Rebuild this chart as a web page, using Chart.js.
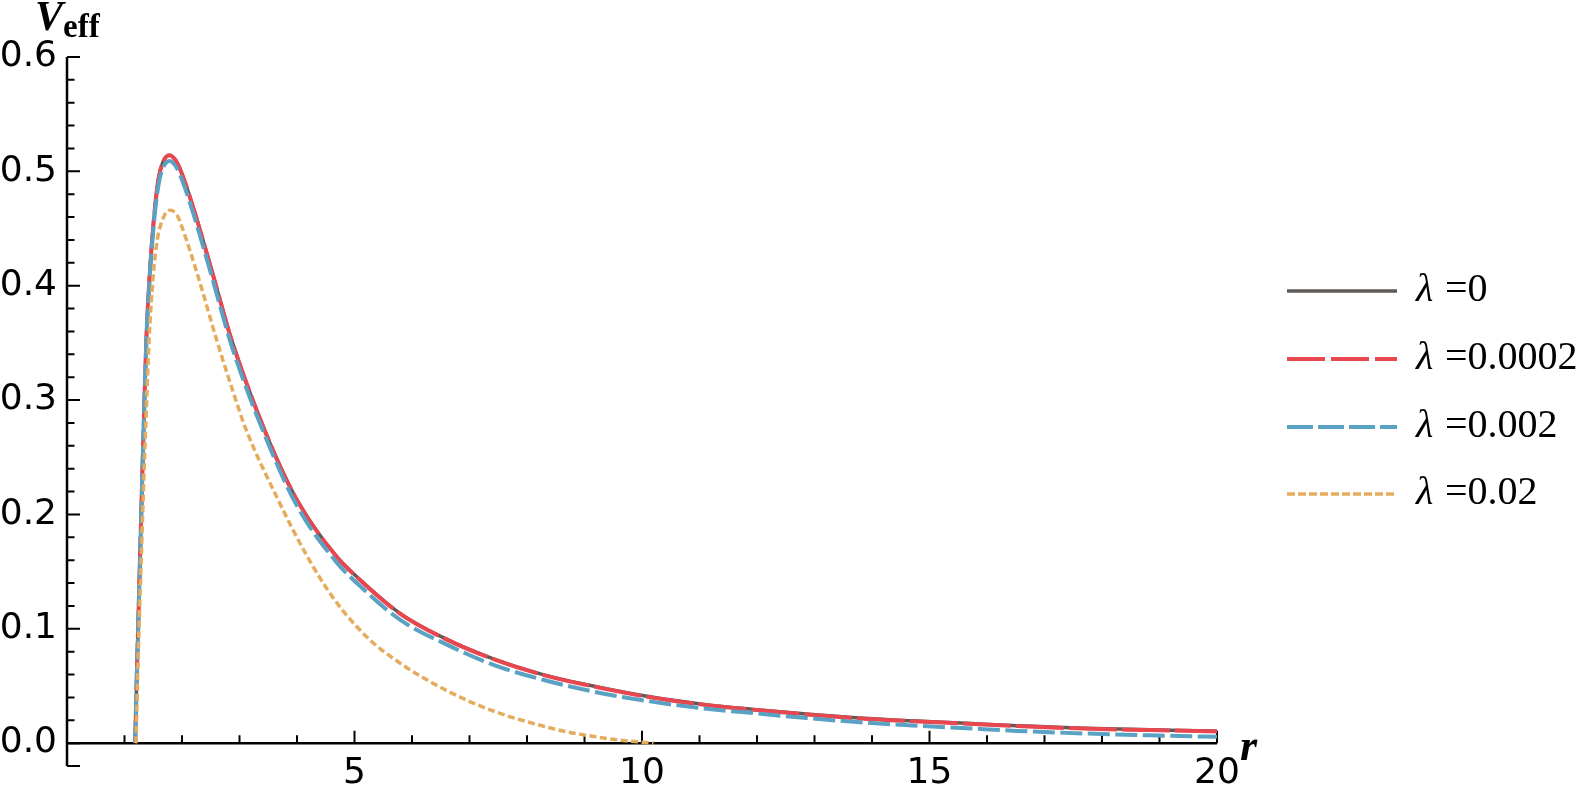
<!DOCTYPE html>
<html lang="en">
<head>
<meta charset="UTF-8">
<title>V_eff vs r</title>
<style>
  * { margin:0; padding:0; box-sizing:border-box; }
  body { background:#fff; width:1587px; height:792px; overflow:hidden; }
</style>
<script src="https://cdn.jsdelivr.net/npm/chart.js"></script>
</head>
<body>
<canvas id="veff" width="1587" height="792"></canvas>
<script>
// radii (shared by the three upper curves)
const rMain = [1.185, 1.215, 1.245, 1.28, 1.33, 1.38, 1.44, 1.51, 1.59, 1.66, 1.78, 1.91, 2.02, 2.21, 2.53, 2.86,
  3.45, 4.0, 4.69, 5.04, 5.79, 6.57, 7.44, 8.31, 9.21, 10.14, 11.04, 11.94, 12.86, 13.79, 14.69, 15.65, 16.52,
  17.67, 18.83, 20];
const vLam0 = [0, 0.06, 0.115, 0.18, 0.271, 0.353, 0.411, 0.458, 0.493, 0.507, 0.514, 0.508, 0.495, 0.466, 0.411,
  0.353, 0.272, 0.2126, 0.163, 0.1455, 0.1135, 0.0916, 0.0732, 0.0595, 0.0493, 0.0405, 0.0341, 0.0295, 0.0254,
  0.0219, 0.0195, 0.0173, 0.0153, 0.013, 0.0117, 0.0105];
const vLam00002 = [0, 0.06, 0.115, 0.18, 0.271, 0.353, 0.411, 0.458, 0.493, 0.507, 0.514, 0.508, 0.495, 0.466, 0.411,
  0.353, 0.272, 0.2125, 0.163, 0.1453, 0.1133, 0.0914, 0.073, 0.0593, 0.049, 0.0402, 0.0338, 0.0292, 0.0251,
  0.0216, 0.0192, 0.017, 0.015, 0.0127, 0.0114, 0.0102];
const vLam0002 = [0, 0.06, 0.114, 0.178, 0.269, 0.35, 0.408, 0.454, 0.488, 0.502, 0.509, 0.503, 0.49, 0.461, 0.406,
  0.348, 0.268, 0.2075, 0.158, 0.140, 0.108, 0.087, 0.068, 0.055, 0.0445, 0.0365, 0.0305, 0.0262, 0.022,
  0.0182, 0.0155, 0.013, 0.0107, 0.0085, 0.0068, 0.0055];
const rLam002 = [1.2, 1.23, 1.26, 1.3, 1.36, 1.43, 1.5, 1.57, 1.68, 1.79, 1.91, 1.995, 2.31, 2.6, 2.89, 3.1, 3.65,
  4.17, 4.63, 5.21, 5.79, 6.37, 6.95, 7.53, 8.11, 8.69, 9.27, 9.62, 10.2];
const vLam002 = [0, 0.06, 0.112, 0.175, 0.265, 0.355, 0.409, 0.44, 0.46, 0.466, 0.462, 0.452, 0.403, 0.353, 0.307,
  0.276, 0.215, 0.164, 0.127, 0.093, 0.07, 0.0522, 0.0376, 0.026, 0.0172, 0.0099, 0.005, 0.0026, 0];

// axes
const xMin = 0, xMax = 20, yMin = -0.02, yMax = 0.6;
const xLabelVals = [5, 10, 15, 20];
const yLabelVals = [0, 0.1, 0.2, 0.3, 0.4, 0.5, 0.6];
const xTickMarks = [1,2,3,4,5,6,7,8,9,10,11,12,13,14,15,16,17,18,19,20];
const yTickMarks = [-0.02,0,0.02,0.04,0.06,0.08,0.1,0.12,0.14,0.16,0.18,0.2,0.22,0.24,0.26,0.28,0.3,
  0.32,0.34,0.36,0.38,0.4,0.42,0.44,0.46,0.48,0.5,0.52,0.54,0.56,0.58,0.6];

const toXY = (rs, vs) => rs.map((r, i) => ({x: r, y: vs[i]}));
const isMajor = (v, step) => Math.abs(v / step - Math.round(v / step)) < 1e-6;
const noPad = s => { s.paddingTop = 0; s.paddingBottom = 0; s.paddingLeft = 0; s.paddingRight = 0; };

const mmaAxes = {
  id: 'mmaAxes',
  beforeDatasetsDraw(chart) {
    const {ctx, scales: {x, y}} = chart;
    const x0 = x.getPixelForValue(0), y0 = y.getPixelForValue(0);
    ctx.save();
    ctx.strokeStyle = '#000';
    ctx.lineWidth = 2.5;
    ctx.beginPath();
    ctx.moveTo(x0, y.getPixelForValue(yMin));
    ctx.lineTo(x0, y.getPixelForValue(yMax));
    ctx.moveTo(x0, y0);
    ctx.lineTo(x.getPixelForValue(xMax), y0);
    ctx.stroke();
    ctx.lineWidth = 2;
    ctx.beginPath();
    xTickMarks.forEach(v => {
      const px = x.getPixelForValue(v), len = isMajor(v, 5) ? 12.5 : 8;
      ctx.moveTo(px, y0); ctx.lineTo(px, y0 - len);
    });
    yTickMarks.forEach(v => {
      const py = y.getPixelForValue(v), len = (isMajor(v, 0.1) || v === yMin) ? 13 : 7.5;
      ctx.moveTo(x0, py); ctx.lineTo(x0 + len, py);
    });
    ctx.stroke();
    ctx.restore();
  },
  afterDraw(chart) {
    const ctx = chart.ctx;
    ctx.save();
    ctx.fillStyle = '#000';
    ctx.textBaseline = 'alphabetic';
    ctx.font = 'bold italic 42px "Liberation Serif"';
    ctx.fillText('V', 35, 30);
    ctx.font = 'bold 33px "Liberation Serif"';
    ctx.fillText('eff', 63, 37);
    ctx.font = 'bold italic 44px "Liberation Serif"';
    ctx.fillText('r', 1240, 760);

    // legend
    const rowY = [291, 359, 427, 494];
    chart.data.datasets.forEach((ds, i) => {
      const y = rowY[i];
      ctx.strokeStyle = ds.borderColor;
      ctx.lineWidth = ds.borderWidth;
      ctx.setLineDash(ds.legendDash);
      ctx.beginPath();
      ctx.moveTo(1287, y); ctx.lineTo(1397, y);
      ctx.stroke();
      ctx.setLineDash([]);
      ctx.font = 'italic 40px "Liberation Serif"';
      ctx.fillText(ds.label[0], 1416, y + 10);
      ctx.font = '40px "Liberation Serif"';
      ctx.fillText(ds.label.slice(2), 1445, y + 10);
    });
    ctx.restore();
  }
};

const common = {pointRadius: 0, fill: false, cubicInterpolationMode: 'monotone', borderCapStyle: 'butt'};

new Chart(document.getElementById('veff'), {
  type: 'line',
  data: {
    datasets: [
      {...common, label: 'λ =0', data: toXY(rMain, vLam0), borderColor: '#5f5a57', borderWidth: 3.5,
        borderDash: [], legendDash: [], order: 4},
      {...common, label: 'λ =0.0002', data: toXY(rMain, vLam00002), borderColor: '#e9474f', borderWidth: 4,
        borderDash: [48, 5], legendDash: [38, 6], order: 3},
      {...common, label: 'λ =0.002', data: toXY(rMain, vLam0002), borderColor: '#5aa2c3', borderWidth: 4,
        borderDash: [22, 5.5], legendDash: [26, 5], order: 2},
      {...common, label: 'λ =0.02', data: toXY(rLam002, vLam002), borderColor: '#e4ac5c', borderWidth: 3.5,
        borderDash: [7, 3.5], legendDash: [8, 3], order: 1}
    ]
  },
  options: {
    responsive: false,
    animation: false,
    devicePixelRatio: 1,
    layout: {padding: {top: 57, right: 370, bottom: 26, left: 0}},
    plugins: {legend: {display: false}, tooltip: {enabled: false}},
    scales: {
      x: {
        type: 'linear', min: xMin, max: xMax, position: {y: 0},
        grid: {display: false, drawTicks: false}, border: {display: false},
        afterFit: noPad,
        afterBuildTicks: s => { s.ticks = xLabelVals.map(v => ({value: v})); },
        ticks: {autoSkip: false, maxRotation: 0, padding: 9, color: '#000',
          font: {family: '"DejaVu Sans"', size: 36}, callback: v => String(v)}
      },
      y: {
        type: 'linear', min: yMin, max: yMax, position: 'left',
        grid: {display: false, drawTicks: false}, border: {display: false},
        afterFit: s => { s.width = 67; noPad(s); },
        afterBuildTicks: s => { s.ticks = yLabelVals.map(v => ({value: v})); },
        ticks: {autoSkip: false, padding: 10, color: '#000',
          font: {family: '"DejaVu Sans"', size: 36}, callback: v => v.toFixed(1)}
      }
    }
  },
  plugins: [mmaAxes]
});
</script>
</body>
</html>
